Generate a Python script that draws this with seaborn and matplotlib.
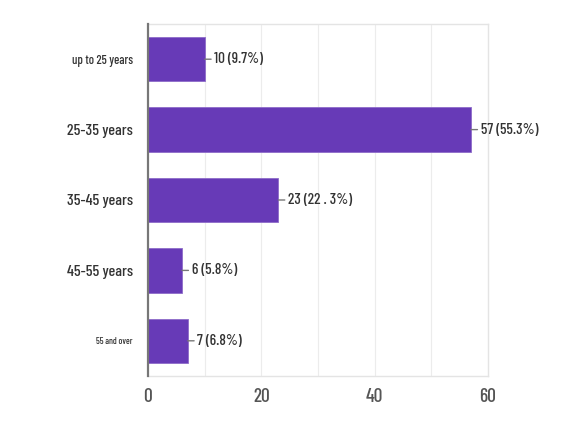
import matplotlib
matplotlib.use("Agg")
import matplotlib.pyplot as plt
from matplotlib import font_manager
import seaborn as sns
import pandas as pd

# Survey answers: age groups of respondents
categories = ["up to 25 years", "25-35 years", "35-45 years", "45-55 years", "55 and over"]
counts = [10, 57, 23, 6, 7]
value_labels = ["10 (9.7%)", "57 (55.3%)", "23 (22 . 3%)", "6 (5.8%)", "7 (6.8%)"]
label_sizes = [9, 11.5, 11.5, 11.5, 6.5]
x_ticks = [0, 20, 40, 60]

sns.set_theme(style="white")
names = {f.name for f in font_manager.fontManager.ttflist}
family = next((n for n in ["Barlow Condensed", "Roboto Condensed", "Archivo Narrow",
                           "Asap Condensed", "Liberation Sans Narrow"] if n in names),
              "Open Sans")
plt.rcParams["font.family"] = [family, "DejaVu Sans"]
plt.rcParams["font.weight"] = "medium"

df = pd.DataFrame({"age": categories, "count": counts})

fig = plt.figure(figsize=(5.68, 4.26), dpi=100)
ax = fig.add_axes([148 / 568, 1 - 376 / 426, 340 / 568, 352 / 426])

sns.barplot(data=df, y="age", x="count", orient="h", color="#673ab7",
            saturation=1, width=0.63, edgecolor="#8e6cc9", linewidth=0.6, ax=ax)

ax.set_xlim(0, 60)
ax.set_ylim(4.5, -0.5)
ax.set_xlabel("")
ax.set_ylabel("")

# light grid every 10 units, frame light except the dark baseline on the left
for gx in range(10, 60, 10):
    ax.axvline(gx, color="#ececec", lw=0.8, zorder=0)
for side in ["top", "right", "bottom"]:
    ax.spines[side].set_color("#e4e4e4")
    ax.spines[side].set_linewidth(1.0)
ax.spines["left"].set_color("#777777")
ax.spines["left"].set_linewidth(1.6)
ax.spines["left"].set_zorder(5)

ax.set_xticks(x_ticks)
ax.set_xticklabels([str(t) for t in x_ticks], fontsize=14, color="#555555")
ax.tick_params(axis="x", length=0, pad=9)
ax.tick_params(axis="y", length=0, pad=11)
ax.set_yticks(range(len(categories)))
ax.set_yticklabels(categories, color="#333333")
for lab, sz in zip(ax.get_yticklabels(), label_sizes):
    lab.set_fontsize(sz)

# value callouts with a short leader line
for i, (v, txt) in enumerate(zip(counts, value_labels)):
    ax.annotate(txt, xy=(v, i), xytext=(7, 0), textcoords="offset points",
                va="center", ha="left", fontsize=11, color="#333333",
                arrowprops=dict(arrowstyle="-", color="#777777", lw=1.0,
                                shrinkA=0, shrinkB=0, relpos=(0, 0.5)))

fig.savefig("out.png", dpi=100, facecolor="white")
